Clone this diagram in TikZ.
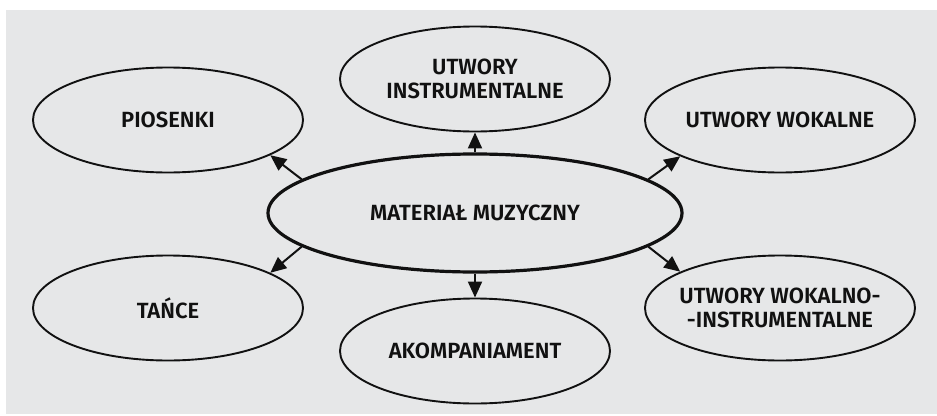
\documentclass[tikz,border=0pt]{standalone}
\usepackage{fontspec}
\setmainfont{Fira Sans}[UprightFont={* Medium},BoldFont={* SemiBold}]
\usetikzlibrary{shapes.geometric,arrows.meta}
\definecolor{bg}{HTML}{E6E7E8}
\definecolor{ink}{HTML}{111111}
\tikzset{
  ell/.style={ellipse,draw=ink,line width=1.9pt,inner sep=0pt,minimum width=270pt,minimum height=105pt},
  bigell/.style={ellipse,draw=ink,line width=3.2pt,inner sep=0pt,minimum width=414pt,minimum height=118pt},
  txt/.style={text=ink,align=center,font=\fontsize{22}{24.5}\selectfont\bfseries,inner sep=0pt},
  arr/.style={draw=ink,line width=2pt,-{Triangle[length=16pt,width=14pt]}}
}
\begin{document}
\begin{tikzpicture}[x=1pt,y=-1pt]
\useasboundingbox (0,0) rectangle (937,415);
\fill[bg] (6,10) rectangle (937,414);
\node[bigell] (mat) at (475,213) {};
\node[txt] (mat-t) at (mat) {MATERIAŁ MUZYCZNY};
\node[ell] (pio) at (168,120) {};
\node[txt] (pio-t) at (pio) {PIOSENKI};
\node[ell] (ins) at (475,79) {};
\node[txt] (ins-t) at (ins) {UTWORY\\INSTRUMENTALNE};
\node[ell] (wok) at (780,120) {};
\node[txt] (wok-t) at (wok) {UTWORY WOKALNE};
\node[ell] (tan) at (168,308) {};
\node[txt] (tan-t) at (tan) {TAŃCE};
\node[ell] (ako) at (475,351) {};
\node[txt] (ako-t) at (ako) {AKOMPANIAMENT};
\node[ell] (wi) at (780,308) {};
\node[txt] (wi-t) at (wi) {UTWORY WOKALNO-\\-INSTRUMENTALNE};
\draw[arr] (mat.169) -- (pio.-19);
\draw[arr] (mat.north) -- (ins.south);
\draw[arr] (mat.11) -- (wok.-160);
\draw[arr] (mat.191) -- (tan.19);
\draw[arr] (mat.south) -- (ako.north);
\draw[arr] (mat.-11) -- (wi.160);
\end{tikzpicture}
\end{document}
